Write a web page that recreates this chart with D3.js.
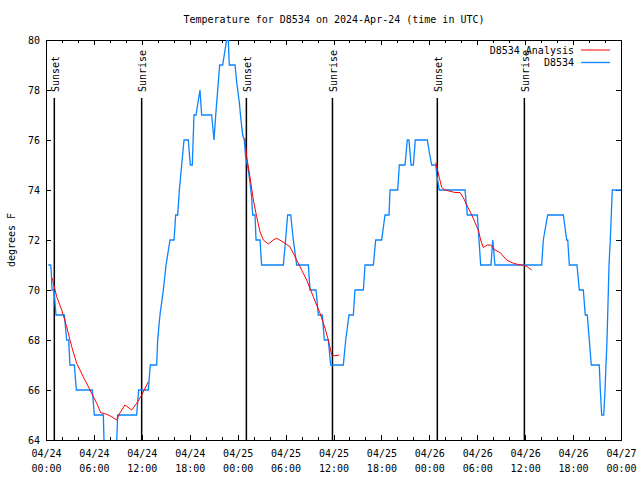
<!DOCTYPE html>
<html><head><meta charset="utf-8">
<script src="https://cdn.jsdelivr.net/npm/d3@7"></script>
<style>
html,body{margin:0;padding:0;background:#fff;}
svg{display:block;}
text{font-family:"DejaVu Sans Mono","Liberation Mono",monospace;font-size:10px;fill:#000;}
</style></head>
<body>
<script>
// ---- data (hours since 2024-04-24 00:00 UTC) ----
const title = "Temperature for D8534 on 2024-Apr-24 (time in UTC)";
const yLabel = "degrees F";
const seriesNames = ["D8534 Analysis", "D8534"];
const yTicks = [64, 66, 68, 70, 72, 74, 76, 78, 80];

const obsHours = [0.29,0.58,0.67,0.75,1.0,1.25,2.30,2.59,2.84,3.0,3.55,3.80,5.80,6.05,7.18,7.30,8.81,8.97,11.35,11.60,12.81,13.06,13.86,13.98,14.27,14.69,15.03,15.53,16.03,16.24,16.49,16.70,16.99,17.28,17.82,18.07,18.32,18.53,18.78,19.28,19.49,20.74,21.04,21.25,21.50,21.75,22.12,22.62,22.83,22.95,23.67,23.88,24.21,24.38,24.63,24.83,25.0,25.34,25.54,25.75,25.88,26.17,26.30,26.80,27.0,29.72,30.0,30.26,30.64,30.97,31.39,32.85,33.06,33.81,34.10,34.60,34.85,35.35,35.65,37.23,37.53,37.94,38.48,38.69,39.74,39.95,40.99,41.28,42.03,42.45,42.95,43.08,44.04,44.24,44.95,45.24,45.45,45.71,46.0,46.24,47.75,48.0,48.3,48.8,48.93,49.25,52.47,52.76,54.01,54.43,55.72,55.94,56.22,62.07,62.27,62.82,64.78,65.2,65.33,65.53,66.49,66.78,67.28,67.53,67.78,68.03,68.28,69.28,69.41,69.58,69.84,70.0,70.12,70.25,70.5,70.66,70.91,72.0];
const obsTemps = [71,71,70.7,70,70,69,69,68,68,67,67,66,66,65,65,63.5,63.5,65,65,66,66,67,67,68,69,70,71,72,72,73,73,74,75,76,76,75,75,77,77,78,77,77,76,77,78,79,79,80,80,79,79,78.3,77.5,76.9,76.2,76,75.3,74.8,74.3,73.7,73,73,72,72,71,71,72,73,73,72,71,71,70,70,69,69,68,68,67,67,68,69,69,70,70,71,71,72,72,73,73,74,74,75,75,76,76,75,75,76,76,75.5,75,75,74.6,74,74,73,73,71,71,72,71,71,72,73,73,72,72,71,71,70,70,69,69,68,67,67,66,65,65,66,67,68,71,72,74,74];

const anaHours1 = [0.79,1.34,1.97,2.59,3.22,3.84,4.67,5.51,6.35,6.85,7.6,8.23,8.85,9.27,9.89,10.73,11.36,11.98,12.81];
const anaTemps1 = [70.47,69.73,69.2,68.53,67.73,67.07,66.53,66.0,65.47,65.09,65.03,64.93,64.8,65.09,65.4,65.2,65.47,65.8,66.33];
const anaHours2 = [24.92,25.13,25.54,25.96,26.38,26.8,27.21,27.84,28.46,28.89,29.93,30.55,31.18,31.81,32.64,33.47,34.31,34.94,35.35,35.78,36.19,36.73];
const anaTemps2 = [76.07,75.33,74.53,73.6,72.93,72.33,72.0,71.84,72.0,72.07,71.87,71.73,71.33,70.93,70.4,69.73,69.07,68.47,68.0,67.4,67.37,67.4];
const anaHours3 = [48.8,49.25,49.55,49.96,50.59,51.22,51.84,52.25,52.68,53.31,53.72,54.13,54.43,54.76,55.26,55.69,56.22,56.85,57.69,58.52,59.35,59.89,60.39,60.82];
const anaTemps3 = [75.1,74.5,74.1,74.0,73.95,73.9,73.9,73.7,73.4,73.0,72.7,72.4,72.0,71.7,71.8,71.8,71.6,71.5,71.2,71.07,71.0,71.0,70.9,70.8];

const sunsetHours = [1.04, 25.09, 49.0];
const sunriseHours = [11.98, 35.87, 59.9];

// ---- layout ----
const W = 640, H = 480;
const m = {left: 46, right: 621, top: 40, bottom: 440};
const t0 = Date.UTC(2024, 3, 24);
const hr = h => new Date(t0 + h * 3600e3);

const x = d3.scaleUtc().domain([hr(0), hr(72)]).range([m.left, m.right]);
const y = d3.scaleLinear().domain([64, 80]).range([m.bottom, m.top]);

const svg = d3.select("body").append("svg").attr("width", W).attr("height", H);
svg.append("rect").attr("width", W).attr("height", H).attr("fill", "#fff");

svg.append("defs").append("clipPath").attr("id", "clip")
  .append("rect").attr("x", m.left).attr("y", m.top).attr("width", m.right - m.left).attr("height", m.bottom - m.top);

// title
svg.append("text").attr("x", 334).attr("y", 19).attr("text-anchor", "middle")
  .attr("dominant-baseline", "central").text(title);

// y label
svg.append("text").attr("transform", "translate(11,240) rotate(-90)")
  .attr("text-anchor", "middle").attr("dominant-baseline", "central").text(yLabel);

const majorX = d3.utcHour.every(6).range(hr(0), hr(72.01));
const minorX = d3.utcHour.every(2).range(hr(0), hr(72.01)).filter(d => d.getUTCHours() % 6 !== 0);
const fmtDate = d3.utcFormat("%m/%d"), fmtTime = d3.utcFormat("%H:%M");

// bottom axis
const gB = svg.append("g").attr("transform", `translate(0,${m.bottom})`)
  .call(d3.axisBottom(x).tickValues(majorX).tickSizeInner(-5).tickSizeOuter(0).tickPadding(9).tickFormat(d => ""));
gB.selectAll(".tick text").each(function(d) {
  const t = d3.select(this);
  t.attr("dy", null);
  t.append("tspan").attr("x", 0).attr("y", 17).text(fmtDate(d));
  t.append("tspan").attr("x", 0).attr("y", 32).text(fmtTime(d));
});
svg.append("g").attr("transform", `translate(0,${m.bottom})`)
  .call(d3.axisBottom(x).tickValues(minorX).tickSizeInner(-3).tickSizeOuter(0).tickFormat(""));
// top axis (mirror)
svg.append("g").attr("transform", `translate(0,${m.top})`)
  .call(d3.axisTop(x).tickValues(majorX).tickSizeInner(-5).tickSizeOuter(0).tickFormat(""));
svg.append("g").attr("transform", `translate(0,${m.top})`)
  .call(d3.axisTop(x).tickValues(minorX).tickSizeInner(-3).tickSizeOuter(0).tickFormat(""));
// left axis
svg.append("g").attr("transform", `translate(${m.left},0)`)
  .call(d3.axisLeft(y).tickValues(yTicks).tickSizeInner(-5).tickSizeOuter(0).tickPadding(6).tickFormat(d3.format("d")));
// right axis (mirror)
svg.append("g").attr("transform", `translate(${m.right},0)`)
  .call(d3.axisRight(y).tickValues(yTicks).tickSizeInner(-5).tickSizeOuter(0).tickFormat(""));

svg.selectAll(".domain").remove();
svg.selectAll(".tick line").attr("stroke", "#000").attr("shape-rendering", "crispEdges");
svg.selectAll(".tick text").attr("font-family", null).attr("font-size", null).attr("fill", "#000");

// frame
svg.append("rect").attr("x", m.left).attr("y", m.top).attr("width", m.right - m.left).attr("height", m.bottom - m.top)
  .attr("fill", "none").attr("stroke", "#000").attr("stroke-width", 1).attr("shape-rendering", "crispEdges");

// sun events
const events = sunsetHours.map(h => ({h, label: "Sunset"})).concat(sunriseHours.map(h => ({h, label: "Sunrise"})));
const ev = svg.append("g").selectAll("g").data(events).join("g");
ev.append("line").attr("x1", d => x(hr(d.h))).attr("x2", d => x(hr(d.h)))
  .attr("y1", m.top + 58).attr("y2", m.bottom).attr("stroke", "#000").attr("stroke-width", 1.5);
ev.append("text").attr("transform", d => `translate(${x(hr(d.h)) + 1},${m.top + 52}) rotate(-90)`)
  .attr("text-anchor", "start").attr("dominant-baseline", "central").text(d => d.label);

// series
const plot = svg.append("g").attr("clip-path", "url(#clip)");
const line = d3.line().x(d => x(hr(d[0]))).y(d => y(d[1]));
const obs = d3.zip(obsHours, obsTemps);
plot.append("path").attr("d", line(obs)).attr("fill", "none").attr("stroke", "#0a84ff").attr("stroke-width", 1.3);
[[anaHours1, anaTemps1], [anaHours2, anaTemps2], [anaHours3, anaTemps3]].forEach(([hs, ts]) => {
  plot.append("path").attr("d", line(d3.zip(hs, ts))).attr("fill", "none").attr("stroke", "#ff0000").attr("stroke-width", 1);
});

// legend
const legColors = ["#ff0000", "#0a84ff"];
const leg = svg.append("g");
seriesNames.forEach((n, i) => {
  const yy = 50 + i * 12.5;
  leg.append("text").attr("x", 574).attr("y", yy).attr("text-anchor", "end").attr("dominant-baseline", "central").text(n);
  leg.append("line").attr("x1", 581).attr("x2", 610).attr("y1", yy).attr("y2", yy)
    .attr("stroke", legColors[i]).attr("stroke-width", i ? 1.3 : 1);
});
</script>
</body></html>
